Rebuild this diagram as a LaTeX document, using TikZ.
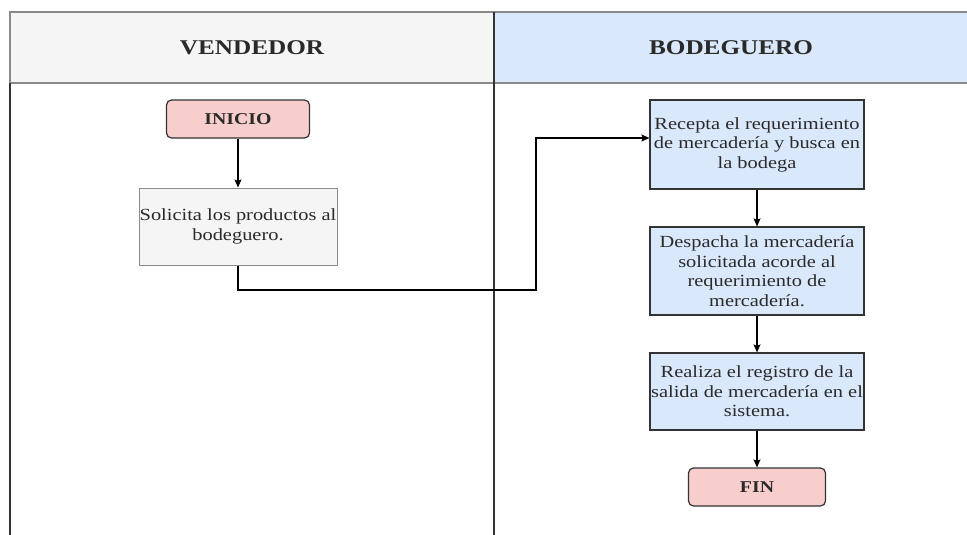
\documentclass[tikz,border=0pt]{standalone}
\usepackage{fontspec}
\setmainfont{Liberation Serif}[FakeStretch=1.2]
\usetikzlibrary{arrows.meta}
\definecolor{hdrgray}{HTML}{F5F5F5}
\definecolor{hdrblue}{HTML}{DAE8FC}
\definecolor{pinkfill}{HTML}{F8CECC}
\definecolor{frameline}{HTML}{8A8A8A}
\definecolor{darkline}{HTML}{333333}
\definecolor{txt}{HTML}{2A2A2A}
\tikzset{
  bodytext/.style={font=\fontsize{17}{19.5}\selectfont, text=txt, align=center, inner sep=0pt},
  terminal/.style={draw=darkline, line width=1.2pt, fill=pinkfill, rounded corners=5pt,
     inner sep=0pt, font=\fontsize{16.5}{19.5}\selectfont\bfseries, text=txt},
  graybox/.style={bodytext, draw=frameline, line width=1pt, fill=hdrgray},
  bluebox/.style={bodytext, draw=darkline, line width=1.2pt, fill=hdrblue},
  flow/.style={draw=black, line width=1.2pt, -{Stealth[length=8pt,width=7pt,inset=1.5pt]}},
  lanehead/.style={font=\fontsize{21}{24}\selectfont\bfseries, text=txt}
}
\begin{document}
\begin{tikzpicture}[x=1pt,y=-1pt]
\useasboundingbox (0,0) rectangle (967,535);
\fill[white] (0,0) rectangle (967,535);
% header
\draw[frameline, line width=1.2pt, fill=hdrgray] (10,12) rectangle (494,83);
\draw[frameline, line width=1.2pt, fill=hdrblue] (494,12) rectangle (970,83);
\node[lanehead] (hv) at (252,48) {VENDEDOR};
\node[lanehead] (hb) at (731,48) {BODEGUERO};
% lane lines
\draw[darkline, line width=1.2pt] (10,83) -- (10,536);
\draw[darkline, line width=1.2pt] (494,12) -- (494,536);
% nodes
\node[terminal, minimum width=143pt, minimum height=38pt] (ini) at (238,119) {INICIO};
\node[graybox, minimum width=198pt, minimum height=77pt] (sol) at (238,226.5)
  {Solicita los productos al\\bodeguero.};
\node[bluebox, minimum width=214pt, minimum height=89pt] (rec) at (757,144.5)
  {Recepta el requerimiento\\de mercadería y busca en\\la bodega};
\node[bluebox, minimum width=214pt, minimum height=88pt] (des) at (757,271)
  {Despacha la mercadería\\solicitada acorde al\\requerimiento de\\mercadería.};
\node[bluebox, minimum width=214pt, minimum height=77pt] (rea) at (757,391.5)
  {Realiza el registro de la\\salida de mercadería en el\\sistema.};
\node[terminal, minimum width=137pt, minimum height=38pt] (fin) at (757,487) {FIN};
% connectors
\coordinate (c1) at (536,290);
\coordinate (c2) at (536,138);
\draw[flow] (ini.south) -- (ini.south |- sol.north);
\draw[flow] (sol.south) |- (c1) -- (c2) -- (rec.west |- c2);
\draw[flow] (rec.south) -- (rec.south |- des.north);
\draw[flow] (des.south) -- (des.south |- rea.north);
\draw[flow] (rea.south) -- (rea.south |- fin.north);
\end{tikzpicture}
\end{document}
